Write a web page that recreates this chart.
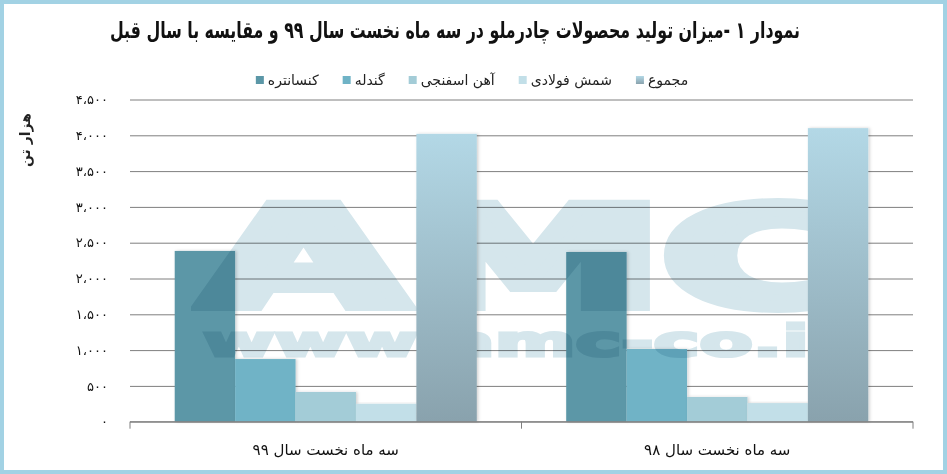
<!DOCTYPE html>
<html>
<head>
<meta charset="utf-8">
<script src="https://cdn.jsdelivr.net/npm/d3@7"></script>
<style>
  body { margin: 0; background: #fff; }
  svg { display: block; font-family: "DejaVu Sans", sans-serif; }
</style>
</head>
<body>
<script>
// chart data
var categories = ['سه ماه نخست سال ۹۹', 'سه ماه نخست سال ۹۸'];
var seriesNames = ['کنسانتره', 'گندله', 'آهن اسفنجی', 'شمش فولادی', 'مجموع'];
var values99 = [2385, 875, 415, 250, 4020];
var values98 = [2370, 1015, 345, 260, 4100];
var yTicks = [0, 500, 1000, 1500, 2000, 2500, 3000, 3500, 4000, 4500];

var seriesColors = ['#5b97a7', '#6fb3c6', '#a3ccd7', '#c2dfe8', 'url(#totalGrad)'];

var width = 947,
  height = 474;

var table = categories.map(function(c, i) {
  return { cat: c, vals: i === 0 ? values99 : values98 };
});

var svg = d3
  .select('body')
  .append('svg')
  .attr('width', width)
  .attr('height', height);

var defs = svg.append('defs');
var grad = defs
  .append('linearGradient')
  .attr('id', 'totalGrad')
  .attr('x1', 0)
  .attr('y1', 0)
  .attr('x2', 0)
  .attr('y2', 1);
grad.append('stop').attr('offset', '0%').attr('stop-color', '#b3d8e6');
grad.append('stop').attr('offset', '100%').attr('stop-color', '#89a2ad');

var shadow = defs.append('filter').attr('id', 'shadow').attr('x', '-20%').attr('width', '140%');
shadow
  .append('feDropShadow')
  .attr('dx', 1.5)
  .attr('dy', 0)
  .attr('stdDeviation', 1.5)
  .attr('flood-color', '#000')
  .attr('flood-opacity', 0.18);

// frame
svg
  .append('rect')
  .attr('x', 2)
  .attr('y', 2)
  .attr('width', width - 4)
  .attr('height', height - 4)
  .attr('fill', 'none')
  .attr('stroke', '#a2d2e4')
  .attr('stroke-width', 4);

// scales
var x0 = d3
  .scaleBand()
  .domain(categories)
  .range([130, 913]);

var x1 = d3
  .scaleBand()
  .domain(seriesNames)
  .range([0, x0.bandwidth()])
  .paddingOuter(0.74);

var y = d3
  .scaleLinear()
  .domain([0, 4500])
  .range([421.7, 99.5]);

function toFa(n) {
  return d3
    .format(',')(n)
    .replace(/\d/g, function(d) {
      return '۰۱۲۳۴۵۶۷۸۹'[+d];
    })
    .replace(/,/g, '،');
}

// title
svg
  .append('text')
  .attr('x', 455)
  .attr('y', 38)
  .attr('text-anchor', 'middle')
  .attr('direction', 'rtl')
  .attr('font-size', 23)
  .attr('font-weight', 'bold')
  .attr('fill', '#111')
  .attr('textLength', 690)
  .attr('lengthAdjust', 'spacingAndGlyphs')
  .text('نمودار ۱ -میزان تولید محصولات چادرملو در سه ماه نخست سال ۹۹ و مقایسه با سال قبل');

// gridlines
var yAxis = d3
  .axisLeft(y)
  .tickValues(yTicks)
  .tickSize(-(913 - 130))
  .tickPadding(22)
  .tickFormat(toFa);

var gy = svg
  .append('g')
  .attr('transform', 'translate(130,0)')
  .call(yAxis);
gy.select('.domain').remove();
gy.selectAll('.tick line')
  .attr('stroke', '#7f7f7f')
  .attr('stroke-width', 1);
gy.selectAll('.tick text')
  .attr('font-size', 13)
  .attr('fill', '#111')
  .attr('font-family', '"DejaVu Sans", sans-serif');

// y axis title
svg
  .append('text')
  .attr('transform', 'translate(30,140) rotate(-90)')
  .attr('text-anchor', 'middle')
  .attr('direction', 'rtl')
  .attr('font-size', 14)
  .attr('font-weight', 'bold')
  .attr('fill', '#222')
  .text('هزار تن');

// bars (first four series)
var groups = svg
  .selectAll('g.grp')
  .data(table)
  .enter()
  .append('g')
  .attr('class', 'grp')
  .attr('transform', function(d) {
    return 'translate(' + x0(d.cat) + ',0)';
  });

function drawBars(sel, totals) {
  sel
    .selectAll('rect.bar')
    .data(function(d) {
      return d.vals
        .map(function(v, i) {
          return { name: seriesNames[i], value: v, i: i };
        })
        .filter(function(b) {
          return totals ? b.i === 4 : b.i < 4;
        });
    })
    .enter()
    .append('rect')
    .attr('class', 'bar')
    .attr('x', function(b) {
      return x1(b.name);
    })
    .attr('width', x1.bandwidth())
    .attr('y', function(b) {
      return y(b.value);
    })
    .attr('height', function(b) {
      return y(0) - y(b.value);
    })
    .attr('fill', function(b) {
      return seriesColors[b.i];
    })
    .attr('filter', 'url(#shadow)');
}
drawBars(groups, false);

// watermark
var wm = svg.append('g').style('mix-blend-mode', 'multiply');
wm.append('text')
  .attr('x', 203)
  .attr('y', 305)
  .attr('font-size', 136)
  .attr('font-weight', 'bold')
  .attr('fill', '#d5e6ec')
  .attr('stroke', '#d5e6ec')
  .attr('stroke-width', 12)
  .attr('stroke-linejoin', 'miter')
  .attr('textLength', 650)
  .attr('lengthAdjust', 'spacingAndGlyphs')
  .text('AMC');
wm.append('text')
  .attr('x', 203)
  .attr('y', 356)
  .attr('font-size', 42)
  .attr('font-weight', 'bold')
  .attr('fill', '#d5e6ec')
  .attr('stroke', '#d5e6ec')
  .attr('stroke-width', 3)
  .attr('textLength', 644)
  .attr('lengthAdjust', 'spacingAndGlyphs')
  .text('www.amc-co.ir');

// totals on top
var groups2 = svg
  .selectAll('g.grp2')
  .data(table)
  .enter()
  .append('g')
  .attr('class', 'grp2')
  .attr('transform', function(d) {
    return 'translate(' + x0(d.cat) + ',0)';
  });
drawBars(groups2, true);

// x axis
var xAxis = d3
  .axisBottom(x0)
  .tickSize(0)
  .tickPadding(23);
var gx = svg
  .append('g')
  .attr('transform', 'translate(0,' + y(0) + ')')
  .call(xAxis);
gx.select('.domain')
  .attr('stroke', '#7f7f7f')
  .attr('d', 'M130,7V0H913V7');
gx.selectAll('.tick text')
  .attr('font-size', 15)
  .attr('fill', '#111')
  .attr('direction', 'rtl')
  .attr('font-family', '"DejaVu Sans", sans-serif');
// category boundary ticks
gx.selectAll('line.sep')
  .data(categories.slice(1))
  .enter()
  .append('line')
  .attr('class', 'sep')
  .attr('x1', function(c) {
    return x0(c);
  })
  .attr('x2', function(c) {
    return x0(c);
  })
  .attr('y1', 0)
  .attr('y2', 7)
  .attr('stroke', '#7f7f7f');

// legend
var legend = svg.append('g').attr('transform', 'translate(0,80)');
var items = legend
  .selectAll('g.item')
  .data(seriesNames)
  .enter()
  .append('g')
  .attr('class', 'item');
items
  .append('rect')
  .attr('y', -4)
  .attr('width', 8)
  .attr('height', 8)
  .attr('fill', function(d, i) {
    return seriesColors[i];
  });
items
  .append('text')
  .attr('x', 12)
  .attr('y', 5)
  .attr('font-size', 14)
  .attr('fill', '#222')
  .text(function(d) {
    return d;
  });

var pos = 0;
var offsets = [];
items.each(function() {
  var w = this.querySelector('text').getComputedTextLength();
  offsets.push(pos);
  pos += 12 + w + 24;
});
var total = pos - 24;
var start = 472 - total / 2;
items.attr('transform', function(d, i) {
  return 'translate(' + (start + offsets[i]) + ',0)';
});
</script>
</body>
</html>
